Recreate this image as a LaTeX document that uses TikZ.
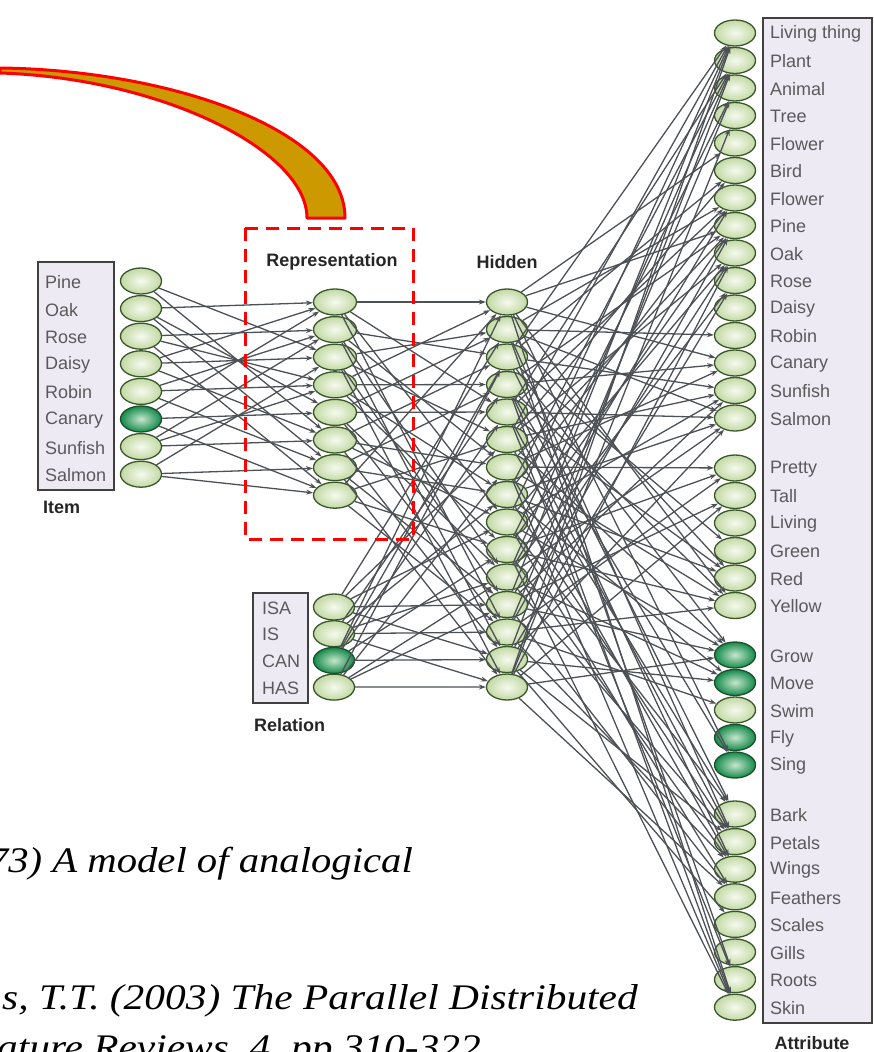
\documentclass[tikz,border=0pt]{standalone}
\usepackage{graphicx}
\usepackage{fontspec}
\setmainfont{Liberation Sans}
\newfontfamily\citefont{Liberation Serif}
\usetikzlibrary{shapes.geometric,arrows.meta}

\definecolor{wire}{HTML}{4D5156}
\definecolor{unitrim}{HTML}{3A562C}
\definecolor{unitfill}{HTML}{C2D9A3}
\definecolor{unitcore}{HTML}{F6FAF0}
\definecolor{activefill}{HTML}{138A4A}
\definecolor{activecore}{HTML}{C8E6CD}
\definecolor{activerim}{HTML}{1E4F2C}
\definecolor{panel}{HTML}{EEEAF3}
\definecolor{labelgray}{HTML}{5A5A5A}
\definecolor{gold}{HTML}{CC9900}

\tikzset{
  unit/.style={ellipse, draw=unitrim, line width=1.3pt, inner color=unitcore,
    outer color=unitfill, minimum width=41pt, minimum height=26pt, inner sep=0pt},
  activeunit/.style={unit, draw=activerim, inner color=activecore, outer color=activefill},
  wirearrow/.style={draw=wire, line width=1.3pt, -{Stealth[length=7pt,width=5pt]}},
  panelbox/.style={draw=black!75, line width=1.2pt, fill=panel},
  unitlabel/.style={anchor=west, font=\fontsize{18}{18}\selectfont, text=labelgray, inner sep=0pt},
  layertitle/.style={font=\bfseries\fontsize{18}{18}\selectfont, text=black!85, inner sep=0pt},
  citation/.style={anchor=base east, inner sep=0pt, font=\citefont\itshape\fontsize{36}{36}\selectfont},
}

\begin{document}
\begin{tikzpicture}[x=1pt, y=-1pt]
\useasboundingbox (0,0) rectangle (874,1052);
\clip (0,0) rectangle (874,1052);

% callout band pointing at the representation layer
\filldraw[draw=red, fill=gold, line width=3pt, line join=round]
  (0,68) .. controls (170,70) and (345,130) .. (345,218) -- (307,218)
  .. controls (307,150) and (160,78) .. (0,73) -- cycle;

% label panels
\draw[panelbox] (38,262) rectangle (114,490);
\draw[panelbox] (253,593) rectangle (308,703);
\draw[panelbox] (763,18) rectangle (872,1023);

% item layer
\foreach \name/\sty [count=\i] in {Pine/unit,Oak/unit,Rose/unit,Daisy/unit,
    Robin/unit,Canary/activeunit,Sunfish/unit,Salmon/unit} {
  \node[\sty] (item\i) at (141,{281+27.6*(\i-1)}) {};
  \node[unitlabel] (itemlab\i) at (45,{282+27.6*(\i-1)}) {\name};
}
\node[layertitle, anchor=west] (itemtitle) at (43,507) {Item};

% representation layer
\foreach \i in {1,...,8} {
  \node[unit, minimum width=43pt] (rep\i) at (335,{302+27.6*(\i-1)}) {};
}
\node[layertitle] (reptitle) at (332,262) {Representation};

% hidden layer
\foreach \i in {1,...,15} {
  \node[unit, minimum width=41pt] (hid\i) at (507,{302+27.5*(\i-1)}) {};
}
\node[layertitle] (hidtitle) at (507,262) {Hidden};

% relation layer
\foreach \name/\sty [count=\i] in {ISA/unit,IS/unit,CAN/activeunit,HAS/unit} {
  \node[\sty] (rel\i) at (334,{607+26.7*(\i-1)}) {};
  \node[unitlabel] (rellab\i) at (262,{608+26.7*(\i-1)}) {\name};
}
\node[layertitle, anchor=west] (reltitle) at (254,725) {Relation};

% attribute layer, four groups
\foreach \name [count=\i] in {Living thing,Plant,Animal,Tree,Flower,Bird,Flower,
    Pine,Oak,Rose,Daisy,Robin,Canary,Sunfish,Salmon} {
  \node[unit] (att\i) at (735,{33+27.5*(\i-1)}) {};
  \node[unitlabel] (attlab\i) at (770,{34+27.5*(\i-1)}) {\name};
}
\foreach \name [count=\i from 16] in {Pretty,Tall,Living,Green,Red,Yellow} {
  \node[unit] (att\i) at (735,{468+27.5*(\i-16)}) {};
  \node[unitlabel] (attlab\i) at (770,{469+27.5*(\i-16)}) {\name};
}
\foreach \name/\sty [count=\i from 22] in {Grow/activeunit,Move/activeunit,Swim/unit,
    Fly/activeunit,Sing/activeunit} {
  \node[\sty] (att\i) at (735,{655+27.5*(\i-22)}) {};
  \node[unitlabel] (attlab\i) at (770,{656+27.5*(\i-22)}) {\name};
}
\foreach \name [count=\i from 27] in {Bark,Petals,Wings,Feathers,Scales,Gills,Roots,Skin} {
  \node[unit] (att\i) at (735,{814+27.6*(\i-27)}) {};
  \node[unitlabel] (attlab\i) at (770,{815+27.6*(\i-27)}) {\name};
}
\node[layertitle] (atttitle) at (812,1043) {Attribute};

% item -> representation
\foreach \s/\targets in {1/{3,6},2/{1,5,7},3/{2,4,8},4/{3,6,1},5/{4,7,2},
    6/{5,1,8},7/{6,2,4},8/{7,3,8}} {
  \foreach \t in \targets { \draw[wirearrow] (item\s) -- (rep\t); }
}

% representation -> hidden
\foreach \s/\targets in {1/{1,5,9,13},2/{3,7,11,14},3/{2,6,12,15},4/{4,8,10,1},
    5/{5,11,13,2},6/{7,9,14,3},7/{8,12,15,4},8/{6,10,13,1}} {
  \foreach \t in \targets { \draw[wirearrow] (rep\s) -- (hid\t); }
}

% relation -> hidden
\foreach \s/\targets in {1/{12,2,6,9,14},2/{13,4,8,11,15},3/{14,1,5,10,3},
    4/{15,3,7,11,12}} {
  \foreach \t in \targets { \draw[wirearrow] (rel\s) -- (hid\t); }
}

% hidden -> attribute
\foreach \h in {1,...,15} {
  \foreach \k in {0,...,5} {
    \pgfmathtruncatemacro\t{mod(7*\h+13*\k,34)+1}
    \draw[wirearrow] (hid\h) -- (att\t);
  }
}

% red dashed frame around the representation layer
\draw[red, line width=3pt, dash pattern=on 13pt off 8pt] (245,228) rectangle (413,539);

% reference lines running in from the left edge
\node[citation] (cite1) at (413,872) {\scalebox{1.13}[1]{73) A model of analogical}};
\node[citation] (cite2) at (638,1009) {\scalebox{1.15}[1]{s, T.T. (2003) The Parallel Distributed}};
\node[citation] (cite3) at (481,1059) {\scalebox{1.15}[1]{Nature Reviews, 4, pp.310-322}};
\end{tikzpicture}
\end{document}
